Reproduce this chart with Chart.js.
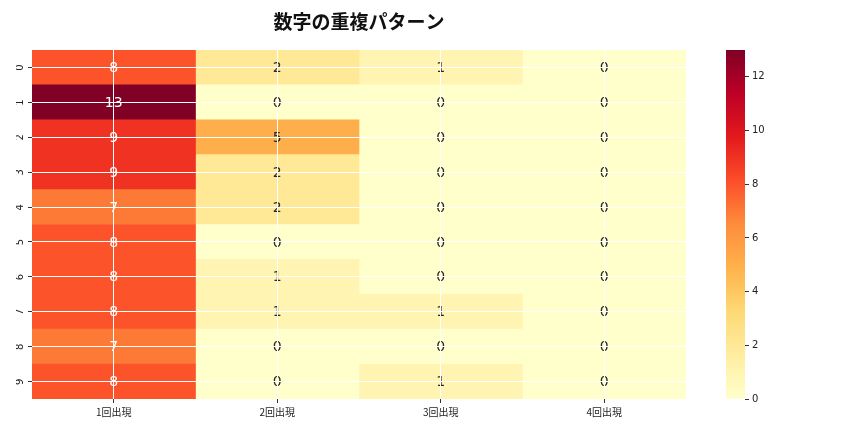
<!DOCTYPE html>
<html>
<head>
<meta charset="utf-8">
<script src="https://cdn.jsdelivr.net/npm/chart.js@4"></script>
<style>
  body { margin: 0; background: #fff; }
  #wrap { position: relative; width: 864px; height: 432px; }
  #heat { position: absolute; left: 0; top: 0; }
  #cbar { position: absolute; left: 700px; top: 0; }
</style>
</head>
<body>
<div id="wrap">
  <canvas id="heat" width="864" height="432"></canvas>
  <canvas id="cbar" width="100" height="432"></canvas>
</div>
<script>
// Data
const rowLabels = ['0', '1', '2', '3', '4', '5', '6', '7', '8', '9'];
const colLabels = ['1回出現', '2回出現', '3回出現', '4回出現'];
const once   = [8, 13, 9, 9, 7, 8, 8, 8, 7, 8];
const twice  = [2, 0, 5, 2, 2, 0, 1, 1, 0, 0];
const thrice = [1, 0, 0, 0, 0, 0, 0, 1, 0, 1];
const four   = [0, 0, 0, 0, 0, 0, 0, 0, 0, 0];
const colorbarTicks = [0, 2, 4, 6, 8, 10, 12];
const vmin = 0, vmax = 13;

const columns = [once, twice, thrice, four];

// YlOrRd colormap stops
const ylOrRd = ['#ffffcc', '#ffeda0', '#fed976', '#feb24c', '#fd8d3c',
                '#fc4e2a', '#e31a1c', '#bd0026', '#800026'];

function hexToRgb(h) {
    return [parseInt(h.slice(1, 3), 16), parseInt(h.slice(3, 5), 16), parseInt(h.slice(5, 7), 16)];
}

function colorRgb(v) {
    let t = (v - vmin) / (vmax - vmin);
    t = Math.max(0, Math.min(1, t));
    const pos = t * (ylOrRd.length - 1);
    const i = Math.min(Math.floor(pos), ylOrRd.length - 2);
    const f = pos - i;
    const a = hexToRgb(ylOrRd[i]), b = hexToRgb(ylOrRd[i + 1]);
    return a.map((c, k) => Math.round(c + (b[k] - c) * f));
}

function cellColor(v) {
    const c = colorRgb(v);
    return 'rgb(' + c.join(',') + ')';
}

// same rule as seaborn: dark text on light cells
function textColor(v) {
    const lin = colorRgb(v).map(c => {
        c = c / 255;
        return c <= 0.03928 ? c / 12.92 : Math.pow((c + 0.055) / 1.055, 2.4);
    });
    const lum = 0.2126 * lin[0] + 0.7152 * lin[1] + 0.0722 * lin[2];
    return lum > 0.408 ? '#262626' : '#ffffff';
}

// one dataset per column, each row is a floating bar [c, c+1]
const datasets = columns.map((vals, c) => ({
    label: colLabels[c],
    data: vals.map(() => [c, c + 1]),
    backgroundColor: vals.map(cellColor),
    borderWidth: 0,
    grouped: false,
    barPercentage: 1,
    categoryPercentage: 1
}));

// draw the numbers in the cells
const annotate = {
    id: 'annotate',
    afterDatasetsDraw(chart) {
        const ctx = chart.ctx;
        const xs = chart.scales.x, ys = chart.scales.y;
        ctx.save();
        ctx.font = '14px "DejaVu Sans"';
        ctx.textAlign = 'center';
        ctx.textBaseline = 'middle';
        columns.forEach((vals, c) => {
            vals.forEach((v, r) => {
                ctx.fillStyle = textColor(v);
                ctx.fillText(String(v), xs.getPixelForValue(c + 0.5), ys.getPixelForValue(r) + 1);
            });
        });
        ctx.restore();
    }
};

const heatChart = new Chart(document.getElementById('heat'), {
    type: 'bar',
    data: { labels: rowLabels, datasets: datasets },
    options: {
        responsive: false,
        animation: false,
        indexAxis: 'y',
        layout: { padding: { left: 16, right: 162, top: 0, bottom: 0 } },
        plugins: {
            legend: { display: false },
            tooltip: { enabled: false },
            title: {
                display: true,
                text: '数字の重複パターン',
                color: '#111',
                font: { family: '"Noto Sans CJK JP"', size: 19, weight: 'bold', lineHeight: 1.2 },
                padding: { top: 10, bottom: 17.2 }
            }
        },
        scales: {
            x: {
                type: 'linear',
                min: 0,
                max: 4,
                afterBuildTicks: s => { s.ticks = [0.5, 1.5, 2.5, 3.5].map(v => ({ value: v })); },
                afterFit: s => { s.height = 33; },
                border: { display: false },
                grid: { z: 1, color: '#ffffff', lineWidth: 1, tickColor: '#333', tickLength: 4 },
                ticks: {
                    color: '#222',
                    padding: 3,
                    maxRotation: 0,
                    font: { family: '"Noto Sans CJK JP"', size: 10 },
                    callback: v => colLabels[Math.floor(v)]
                }
            },
            y: {
                type: 'category',
                offset: true,
                afterFit: s => { s.width = 16; },
                border: { display: false },
                grid: { z: 1, offset: false, color: '#ffffff', lineWidth: 1, tickColor: '#333', tickLength: 4 },
                ticks: {
                    color: '#222',
                    padding: 8,
                    labelOffset: -3,
                    autoSkip: false,
                    minRotation: 90,
                    maxRotation: 90,
                    font: { family: '"DejaVu Sans"', size: 10 }
                }
            },
            // empty right-hand box so the title centres over the cells
            yRight: {
                type: 'category',
                position: 'right',
                afterFit: s => { s.width = 16; },
                border: { display: false },
                grid: { display: false },
                ticks: { display: false }
            }
        }
    },
    plugins: [annotate]
});

// colour bar: one floating bar filled with the colormap gradient
const cbarChart = new Chart(document.getElementById('cbar'), {
    type: 'bar',
    data: {
        labels: [''],
        datasets: [{
            data: [[vmin, vmax]],
            borderWidth: 0,
            barPercentage: 1,
            categoryPercentage: 1,
            backgroundColor: ctx => {
                const area = ctx.chart.chartArea;
                if (!area) return ylOrRd[0];
                const g = ctx.chart.ctx.createLinearGradient(0, area.bottom, 0, area.top);
                ylOrRd.forEach((c, i) => g.addColorStop(i / (ylOrRd.length - 1), c));
                return g;
            }
        }]
    },
    options: {
        responsive: false,
        animation: false,
        layout: { padding: { left: 26, right: 0, top: 50, bottom: 33 } },
        plugins: { legend: { display: false }, tooltip: { enabled: false } },
        scales: {
            x: { display: false },
            y: {
                type: 'linear',
                position: 'right',
                min: vmin,
                max: vmax,
                afterBuildTicks: s => { s.ticks = colorbarTicks.map(v => ({ value: v })); },
                afterFit: s => { s.width = 55; },
                border: { display: false },
                grid: { drawOnChartArea: false, tickColor: '#333', tickLength: 4 },
                ticks: {
                    color: '#222',
                    padding: 3,
                    font: { family: '"DejaVu Sans"', size: 10 }
                }
            }
        }
    }
});
</script>
</body>
</html>
